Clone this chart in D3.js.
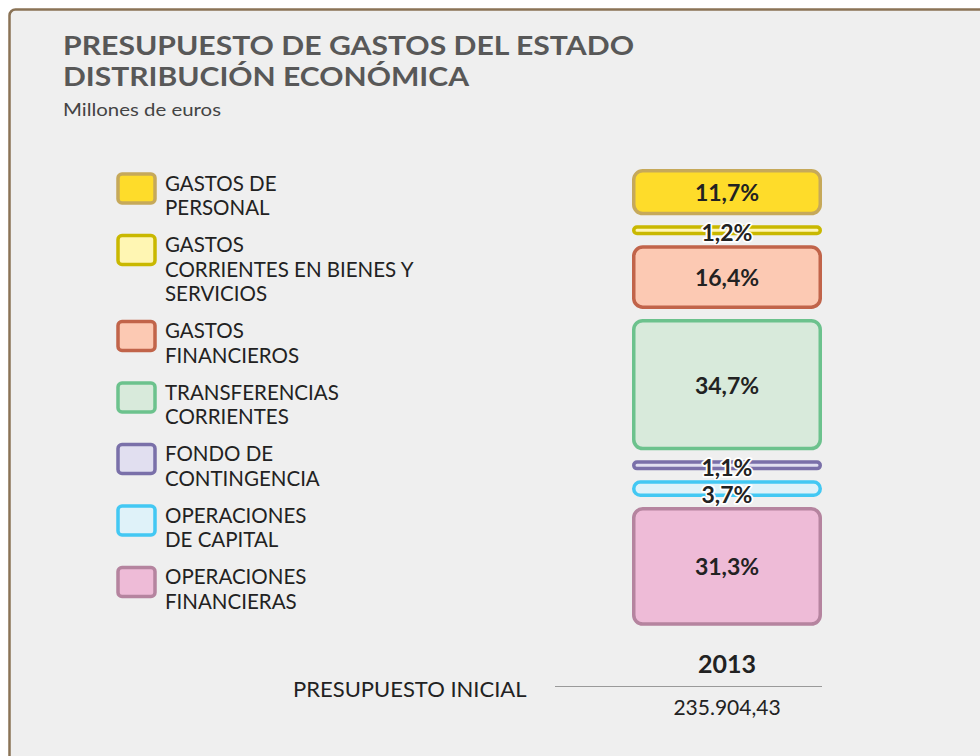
<!DOCTYPE html>
<html>
<head>
<meta charset="utf-8">
<script src="https://cdn.jsdelivr.net/npm/d3@7"></script>
<style>
  html, body { margin: 0; padding: 0; background: #fff; }
  svg { display: block; font-family: Lato, "Open Sans", sans-serif; }
</style>
</head>
<body>
<svg id="chart" width="980" height="756"></svg>
<script>
// Datos del gráfico
const categories = [
  "GASTOS DE PERSONAL",
  "GASTOS CORRIENTES EN BIENES Y SERVICIOS",
  "GASTOS FINANCIEROS",
  "TRANSFERENCIAS CORRIENTES",
  "FONDO DE CONTINGENCIA",
  "OPERACIONES DE CAPITAL",
  "OPERACIONES FINANCIERAS"
];
const legendLines = [
  ["GASTOS DE", "PERSONAL"],
  ["GASTOS", "CORRIENTES EN BIENES Y", "SERVICIOS"],
  ["GASTOS", "FINANCIEROS"],
  ["TRANSFERENCIAS", "CORRIENTES"],
  ["FONDO DE", "CONTINGENCIA"],
  ["OPERACIONES", "DE CAPITAL"],
  ["OPERACIONES", "FINANCIERAS"]
];
const shares2013 = [11.7, 1.2, 16.4, 34.7, 1.1, 3.7, 31.3];
const year = "2013";
const totalLabel = "PRESUPUESTO INICIAL";
const total2013 = 235904.43;

const fills   = ["#fedc2a", "#fff6b3", "#fcc9b3", "#d8eadb", "#e1dff0", "#dff2f9", "#eebbd7"];
const strokes = ["#c6a95a", "#c9b800", "#c1644a", "#6cc28d", "#7a70a9", "#43c8f3", "#b5849f"];

const es = d3.formatLocale({ decimal: ",", thousands: ".", grouping: [3], currency: ["", " €"] });
const pct = d => es.format(".1f")(d) + "%";
const money = es.format(",.2f");

const fillScale = d3.scaleOrdinal(categories, fills);
const strokeScale = d3.scaleOrdinal(categories, strokes);

const svg = d3.select("#chart");

// marco
svg.append("rect")
  .attr("x", 9.5).attr("y", 9.5)
  .attr("width", 1000).attr("height", 800)
  .attr("rx", 6)
  .attr("fill", "#efefef")
  .attr("stroke", "#8a7356")
  .attr("stroke-width", 2.5);

// títulos
const title = svg.append("g").attr("fill", "#585858").attr("font-weight", 700).attr("font-size", 26);
title.append("text").attr("x", 63).attr("y", 55)
  .attr("textLength", 571).attr("lengthAdjust", "spacingAndGlyphs")
  .text("PRESUPUESTO DE GASTOS DEL ESTADO");
title.append("text").attr("x", 63).attr("y", 86)
  .attr("textLength", 406).attr("lengthAdjust", "spacingAndGlyphs")
  .text("DISTRIBUCIÓN ECONÓMICA");
svg.append("text").attr("x", 63).attr("y", 116)
  .attr("fill", "#444").attr("font-size", 18)
  .attr("textLength", 158).attr("lengthAdjust", "spacingAndGlyphs")
  .text("Millones de euros");

// leyenda
const lineH = 24.5, itemGap = 12.5;
let ly = 183;
const legendPos = legendLines.map(lines => { const y = ly; ly += lines.length * lineH + itemGap; return y; });

const legend = svg.append("g");
const item = legend.selectAll("g.item")
  .data(categories)
  .join("g")
  .attr("class", "item")
  .attr("transform", (d, i) => `translate(0,${legendPos[i]})`);

item.append("rect")
  .attr("x", 118).attr("y", -9)
  .attr("width", 37).attr("height", 29)
  .attr("rx", 4)
  .attr("fill", d => fillScale(d))
  .attr("stroke", d => strokeScale(d))
  .attr("stroke-width", 3.5);

item.append("text")
  .attr("fill", "#222")
  .attr("font-size", 20.5)
  .selectAll("tspan")
  .data((d, i) => legendLines[i])
  .join("tspan")
  .attr("x", 165)
  .attr("y", (d, j) => j * lineH + 7.5)
  .text(d => d);

// barra apilada con separación (la altura incluye el borde)
const h = d3.scaleLinear().domain([0, 100]).range([3, 373]);
const minH = 10, gap = 10, barTop = 169;
const x = d3.scaleBand().domain([year]).range([632, 822]);

const heights = shares2013.map(v => Math.max(h(v), minH));
const tops = [];
heights.reduce((acc, hh, i) => { tops[i] = acc; return acc + hh + gap; }, barTop);

const labelShift = hh => hh < 12 ? 1.5 : hh < 25 ? 5 : 0;

const bars = svg.append("g");
const seg = bars.selectAll("g.seg")
  .data(categories)
  .join("g")
  .attr("class", "seg");

seg.append("rect")
  .attr("x", x(year) + 1.75)
  .attr("y", (d, i) => tops[i] + 1.75)
  .attr("width", x.bandwidth() - 3.5)
  .attr("height", (d, i) => heights[i] - 3.5)
  .attr("rx", (d, i) => Math.min(9, (heights[i] - 3.5) / 2))
  .attr("fill", d => fillScale(d))
  .attr("stroke", d => strokeScale(d))
  .attr("stroke-width", 3.5);

seg.append("text")
  .attr("x", x(year) + x.bandwidth() / 2)
  .attr("y", (d, i) => tops[i] + heights[i] / 2 + labelShift(heights[i]))
  .attr("text-anchor", "middle")
  .attr("dominant-baseline", "central")
  .attr("font-size", 23)
  .attr("font-weight", 700)
  .attr("fill", "#222")
  .attr("stroke", (d, i) => heights[i] < 25 ? "#fff" : "none")
  .attr("stroke-width", 3.5)
  .attr("stroke-linejoin", "round")
  .attr("paint-order", "stroke")
  .text((d, i) => pct(shares2013[i]));

// pie con total
const foot = svg.append("g");
foot.append("text")
  .attr("x", x(year) + x.bandwidth() / 2).attr("y", 673)
  .attr("text-anchor", "middle")
  .attr("font-size", 25).attr("font-weight", 700).attr("fill", "#222")
  .text(year);
foot.append("line")
  .attr("x1", 555).attr("x2", x(year) + x.bandwidth())
  .attr("y1", 686.5).attr("y2", 686.5)
  .attr("stroke", "#9a9a9a").attr("stroke-width", 1);
foot.append("text")
  .attr("x", 293).attr("y", 697)
  .attr("font-size", 22).attr("fill", "#222")
  .text(totalLabel);
foot.append("text")
  .attr("x", x(year) + x.bandwidth() / 2).attr("y", 715)
  .attr("text-anchor", "middle")
  .attr("font-size", 21).attr("fill", "#222")
  .text(money(total2013));
</script>
</body>
</html>
